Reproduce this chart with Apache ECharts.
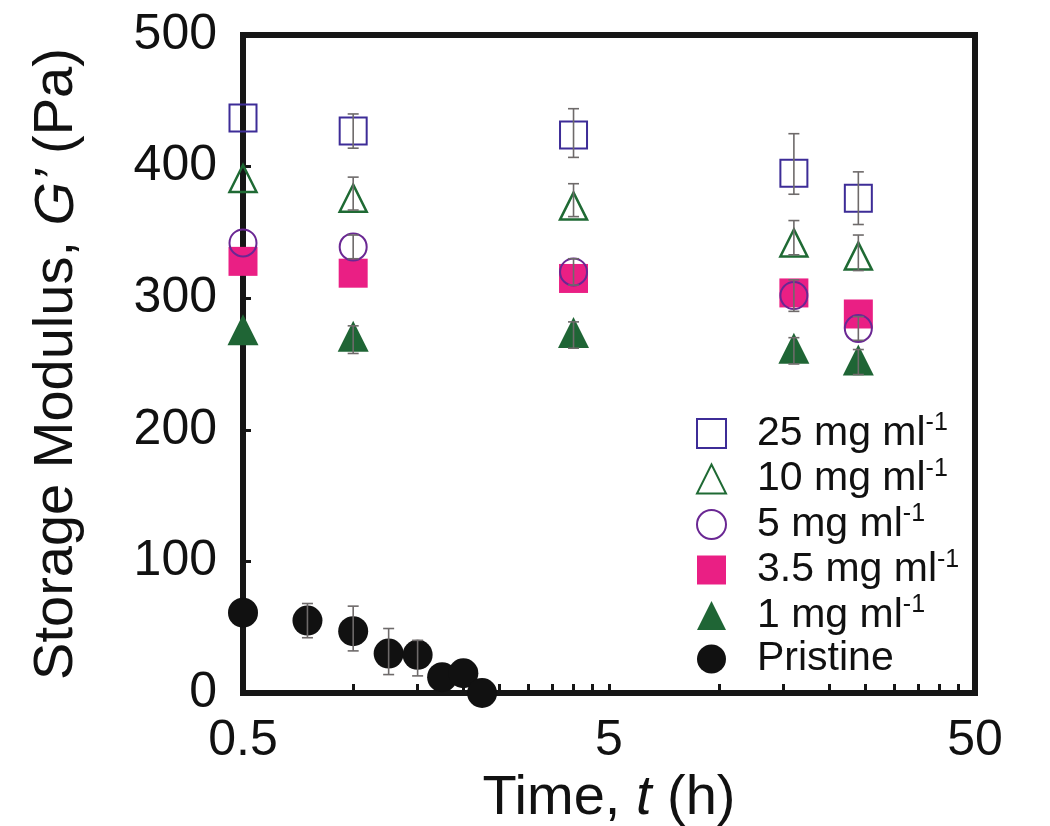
<!DOCTYPE html>
<html>
<head>
<meta charset="utf-8">
<script src="https://cdn.jsdelivr.net/npm/echarts@6/dist/echarts.min.js"></script>
<style>
html,body{margin:0;padding:0;background:#fff;}
#chart{width:1050px;height:826px;}
</style>
</head>
<body>
<div id="chart"></div>
<script>
// ---- data ----
const times = [0.5, 1, 4, 16, 24];
const g25 = [437, 427, 424, 395, 376];
const g25Lo = [null, 414, 407, 379, 356];
const g25Hi = [null, 440, 444, 425, 396];
const g10 = [391, 376, 370, 342, 332];
const g10Lo = [null, 367, 362, 333, 321];
const g10Hi = [null, 392, 387, 359, 348];
const g5 = [342, 339, 320, 302, 277];
const g5Lo = [null, 330, 310, 290, 268];
const g5Hi = [null, 348, 330, 314, 286];
const g35 = [328, 319, 315, 304, 288];
const g1 = [276, 271, 274, 262, 253];
const g1Lo = [null, 258, 262, 250, 242];
const g1Hi = [null, 279, 282, 270, 261];
const pristineTimes = [0.5, 0.75, 1, 1.25, 1.5, 1.75, 2, 2.25];
const pristine = [61, 55, 47, 30, 29, 12, 15, 0];
const pristineLo = [null, 42, 32, 14, 13, null, null, null];
const pristineHi = [null, 68, 66, 49, 40, null, null, null];
const xLabelValues = [0.5, 5, 50];
const xTickValues = [0.5, 1, 1.5, 2, 2.5, 3, 3.5, 4, 4.5, 5, 10, 15, 20, 25, 30, 35, 40, 45, 50];
const seriesNames = ['25 mg ml', '10 mg ml', '5 mg ml', '3.5 mg ml', '1 mg ml', 'Pristine'];

// ---- build ----
const FONT = '"Liberation Sans", Arial, sans-serif';
const C25 = '#3d2c97', C10 = '#1f6a34', C5 = '#6a2793', C35 = '#ea1f84', C1 = '#1f6535', CP = '#111111';

function pts(xs, ys) { return xs.map((x, i) => [x, ys[i]]); }
function errData(xs, lo, hi) {
  const out = [];
  xs.forEach((x, i) => { if (lo[i] != null && hi[i] != null) out.push([x, lo[i], hi[i]]); });
  return out;
}
const allErr = [].concat(
  errData(times, g25Lo, g25Hi),
  errData(times, g10Lo, g10Hi),
  errData(times, g5Lo, g5Hi),
  errData(times, g1Lo, g1Hi),
  errData(pristineTimes, pristineLo, pristineHi)
);

const chart = echarts.init(document.getElementById('chart'), null, {renderer: 'canvas'});

const legendRich = {
  g: {width: 26, fontSize: 41, fontFamily: FONT},
  n: {fontSize: 41, fontFamily: FONT, color: '#111', lineHeight: 45},
  s: {fontSize: 25, fontFamily: FONT, color: '#111', verticalAlign: 'top', lineHeight: 30}
};

const option = {
  animation: false,
  backgroundColor: '#fff',
  grid: {left: 243, right: 75, top: 35, bottom: 133, containLabel: false, outerBoundsMode: 'none',
    show: true, borderColor: '#161616', borderWidth: 6, backgroundColor: 'transparent'},
  xAxis: {
    type: 'log', logBase: 10, min: 0.5, max: 50,
    name: '{n|Time, }{i|t}{n| (h)}', nameLocation: 'middle', nameGap: 69,
    nameTextStyle: {rich: {
      n: {fontSize: 56, fontFamily: FONT, color: '#111'},
      i: {fontSize: 56, fontFamily: FONT, fontStyle: 'italic', color: '#111'}
    }},
    axisLine: {show: false},
    axisTick: {show: true, inside: true, length: 9, lineStyle: {color: '#161616', width: 3}, customValues: xTickValues},
    minorTick: {show: false},
    axisLabel: {fontSize: 50, fontFamily: FONT, color: '#111', margin: 23, customValues: xLabelValues,
      formatter: v => String(v)},
    splitLine: {show: false}
  },
  yAxis: {
    type: 'value', min: 0, max: 500, interval: 100,
    name: '{n|Storage Modulus, }{i|G’}{n| (Pa)}', nameLocation: 'middle', nameGap: 158, nameRotate: 90,
    nameTextStyle: {rich: {
      n: {fontSize: 56, fontFamily: FONT, color: '#111'},
      i: {fontSize: 56, fontFamily: FONT, fontStyle: 'italic', color: '#111'}
    }},
    axisLine: {show: false},
    axisTick: {show: true, inside: true, length: 8, lineStyle: {color: '#161616', width: 3}},
    axisLabel: {fontSize: 50, fontFamily: FONT, color: '#111', margin: 26},
    splitLine: {show: false}
  },
  legend: {
    orient: 'vertical', left: 691, top: 406,
    itemWidth: 29, itemHeight: 29, itemGap: 2.5,
    selectedMode: false,
    formatter: name => name === 'Pristine' ? '{g| }{n|Pristine}' : '{g| }{n|' + name + '}{s|-1}',
    textStyle: {rich: legendRich, fontSize: 41, fontFamily: FONT, color: '#111'},
    data: [
      {name: seriesNames[0], icon: 'rect', itemStyle: {color: '#fff', borderColor: C25, borderWidth: 2}},
      {name: seriesNames[1], icon: 'triangle', itemStyle: {color: '#fff', borderColor: C10, borderWidth: 2}},
      {name: seriesNames[2], icon: 'circle', itemStyle: {color: '#fff', borderColor: C5, borderWidth: 2}},
      {name: seriesNames[3], icon: 'rect', itemStyle: {color: C35, borderWidth: 0}},
      {name: seriesNames[4], icon: 'triangle', itemStyle: {color: C1, borderWidth: 0}},
      {name: seriesNames[5], icon: 'circle', itemStyle: {color: CP, borderWidth: 0}}
    ]
  },
  series: [
    {name: seriesNames[5], type: 'scatter', z: 2, symbol: 'circle', symbolSize: 30, data: pts(pristineTimes, pristine),
      itemStyle: {color: CP, opacity: 1}},
    {name: seriesNames[4], type: 'scatter', z: 3, symbol: 'triangle', symbolSize: [31, 31], data: pts(times, g1),
      itemStyle: {color: C1, opacity: 1}},
    {name: seriesNames[3], type: 'scatter', z: 4, symbol: 'rect', symbolSize: 29, data: pts(times, g35),
      itemStyle: {color: C35, opacity: 1}},
    {name: seriesNames[2], type: 'scatter', z: 5, symbol: 'circle', symbolSize: 27, data: pts(times, g5),
      itemStyle: {color: 'rgba(255,255,255,0)', borderColor: C5, borderWidth: 2, opacity: 1}},
    {name: seriesNames[1], type: 'scatter', z: 6, symbol: 'triangle', symbolSize: [27, 27], data: pts(times, g10),
      itemStyle: {color: 'rgba(255,255,255,0)', borderColor: C10, borderWidth: 2.5, opacity: 1}},
    {name: seriesNames[0], type: 'scatter', z: 7, symbol: 'rect', symbolSize: 27, data: pts(times, g25),
      itemStyle: {color: 'rgba(255,255,255,0)', borderColor: C25, borderWidth: 2, opacity: 1}},
    {name: 'err', type: 'custom', z: 8, data: allErr, encode: {x: 0, y: [1, 2]},
      renderItem: function (params, api) {
        const x = api.value(0), lo = api.value(1), hi = api.value(2);
        const a = api.coord([x, hi]), b = api.coord([x, lo]);
        const w = 5.5;
        const st = {stroke: '#6e6a6a', lineWidth: 1.6};
        return {type: 'group', children: [
          {type: 'line', shape: {x1: a[0], y1: a[1], x2: b[0], y2: b[1]}, style: st},
          {type: 'line', shape: {x1: a[0] - w, y1: a[1], x2: a[0] + w, y2: a[1]}, style: st},
          {type: 'line', shape: {x1: b[0] - w, y1: b[1], x2: b[0] + w, y2: b[1]}, style: st}
        ]};
      }
    }
  ]
};
chart.setOption(option);
</script>
</body>
</html>
